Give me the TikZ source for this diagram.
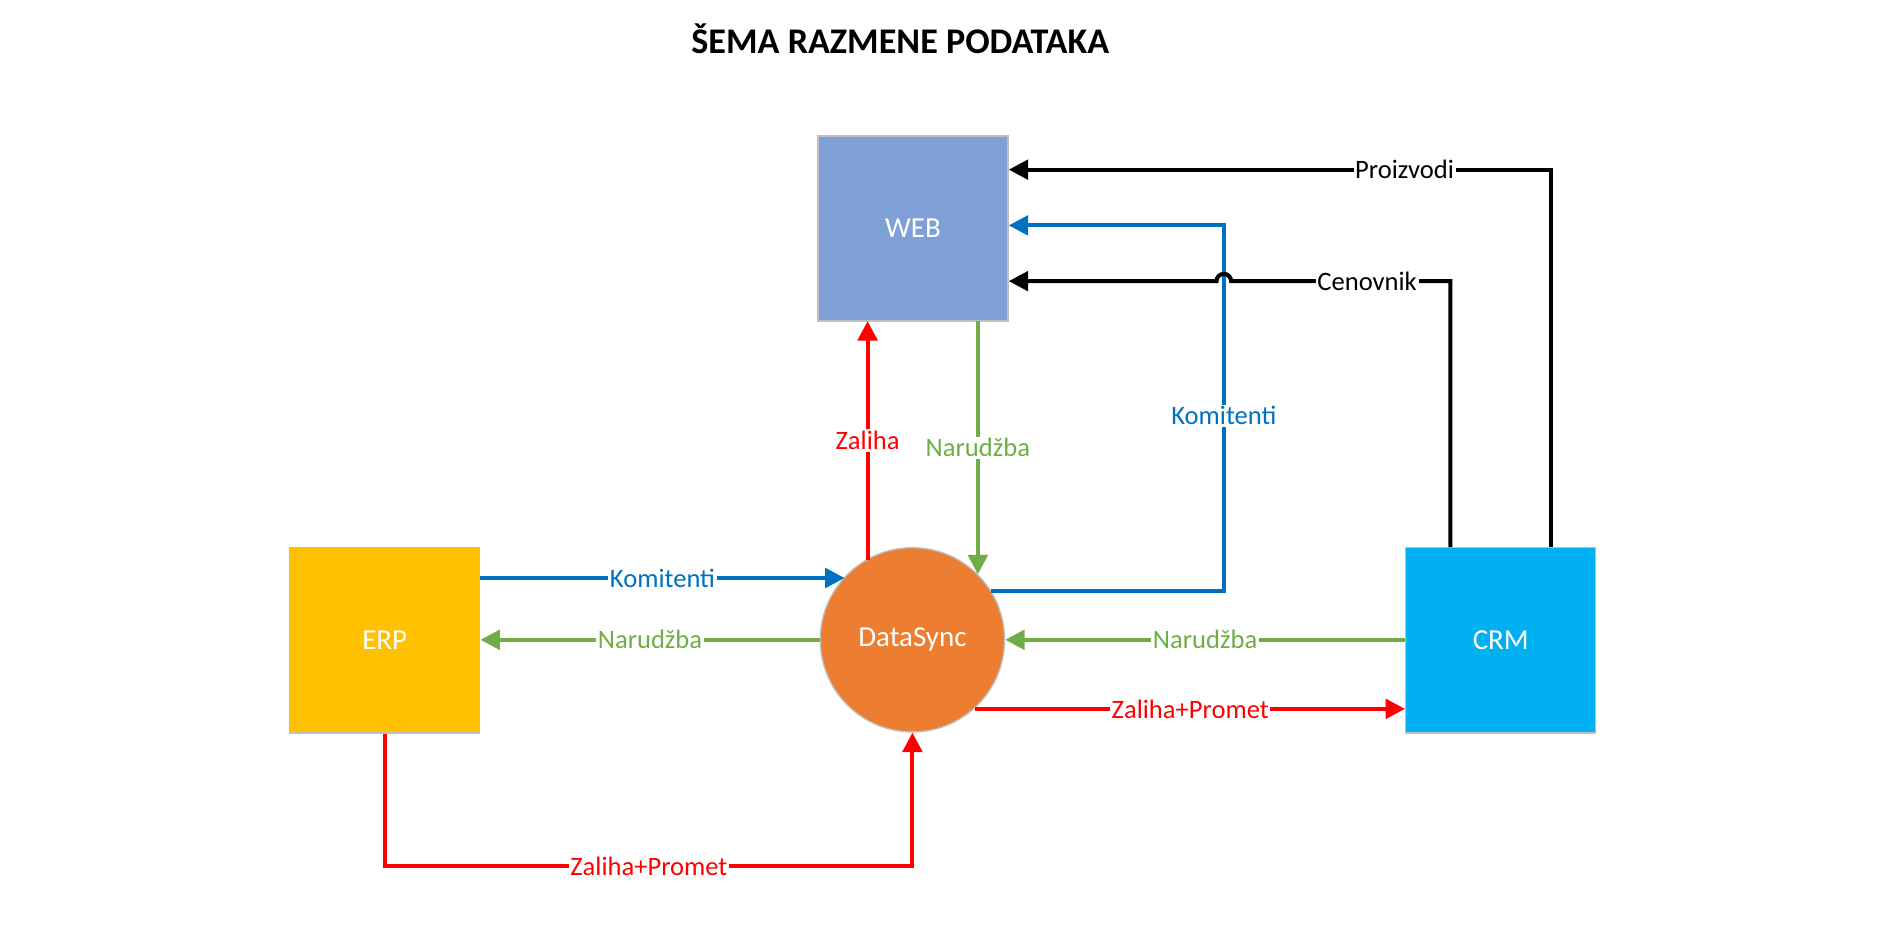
\documentclass[tikz,border=0pt]{standalone}
\usepackage{fontspec}
\setmainfont{Carlito}
\usetikzlibrary{arrows.meta}
\definecolor{webblue}{HTML}{7F9FD7}
\definecolor{erpyellow}{HTML}{FFC000}
\definecolor{crmcyan}{HTML}{00B0F0}
\definecolor{syncorange}{HTML}{ED7D31}
\definecolor{lnblue}{HTML}{0070C0}
\definecolor{lngreen}{HTML}{70AD47}
\definecolor{lnred}{HTML}{FF0000}
\begin{document}
\begin{tikzpicture}[x=0.0125cm, y=-0.0125cm,
    every node/.style={font=\fontsize{7.8}{9}\selectfont},
    sysbox/.style={draw=black!25, rectangle, minimum width=1.96cm, minimum height=1.91cm, text=white, font=\fontsize{8.5}{10}\selectfont},
    flow/.style={line width=1.2pt, -{Triangle[length=0.2cm, width=0.2cm]}},
    lbl/.style={fill=white, inner sep=0.5pt}]
    \useasboundingbox (0,0) rectangle (1568,772);
    % Title
    \node[font=\fontsize{10.6}{12}\selectfont\bfseries] (title) at (743,32) {ŠEMA RAZMENE PODATAKA};
    
    % Systems
    \node[sysbox, fill=webblue] (web) at (753.5,188.5) {WEB};
    \node[sysbox, fill=erpyellow] (erp) at (317.5,528.5) {ERP};
    \node[sysbox, fill=crmcyan] (crm) at (1238.5,528.5) {CRM};
    \node[draw=black!25, circle, fill=syncorange, minimum size=1.9cm, text=white, font=\fontsize{8.5}{10}\selectfont] (sync) at (753,528) {DataSync};
    
    % Corner points
    \coordinate (pTop) at (1280,140);
    \coordinate (cTop) at (1197,232);
    \coordinate (kCorner) at (1010,488);
    \coordinate (kTop) at (1010,186);
    \coordinate (eBot) at (318,715);
    \coordinate (sBot) at (753,715);
    
    % Edges
    \draw[flow, black] (crm.north -| pTop) -- (pTop) -- node[lbl, pos=0.27] {Proizvodi} (web.east |- pTop);
    \draw[flow, lnblue] (818,488) -- (kCorner) -- node[lbl, pos=0.48] {Komitenti} (kTop) -- (web.east |- kTop);
    \draw[flow, black] (crm.north -| cTop) -- (cTop) -- node[lbl, pos=0.38] {Cenovnik} (1016,232) arc (0:180:0.075cm) -- (web.east |- cTop);
    \draw[flow, lnred] (716,462) -- node[lbl, pos=0.5] {Zaliha} (716,265);
    \draw[flow, lngreen] (807,265) -- node[lbl, pos=0.5] {Narudžba} (807,474);
    \draw[flow, lnblue] (erp.east |- 0,477) -- node[lbl] {Komitenti} (697,477);
    \draw[flow, lngreen] (sync.west) -- node[lbl] {Narudžba} (erp.east |- sync.west);
    \draw[flow, lngreen] (crm.west |- sync.east) -- node[lbl] {Narudžba} (sync.east);
    \draw[flow, lnred] (805,585) -- node[lbl, pos=0.5] {Zaliha+Promet} (crm.west |- 0,585);
    \draw[flow, lnred] (erp.south -| eBot) -- (eBot) -- node[lbl] {Zaliha+Promet} (sBot) -- (sync.south);
\end{tikzpicture}
\end{document}
